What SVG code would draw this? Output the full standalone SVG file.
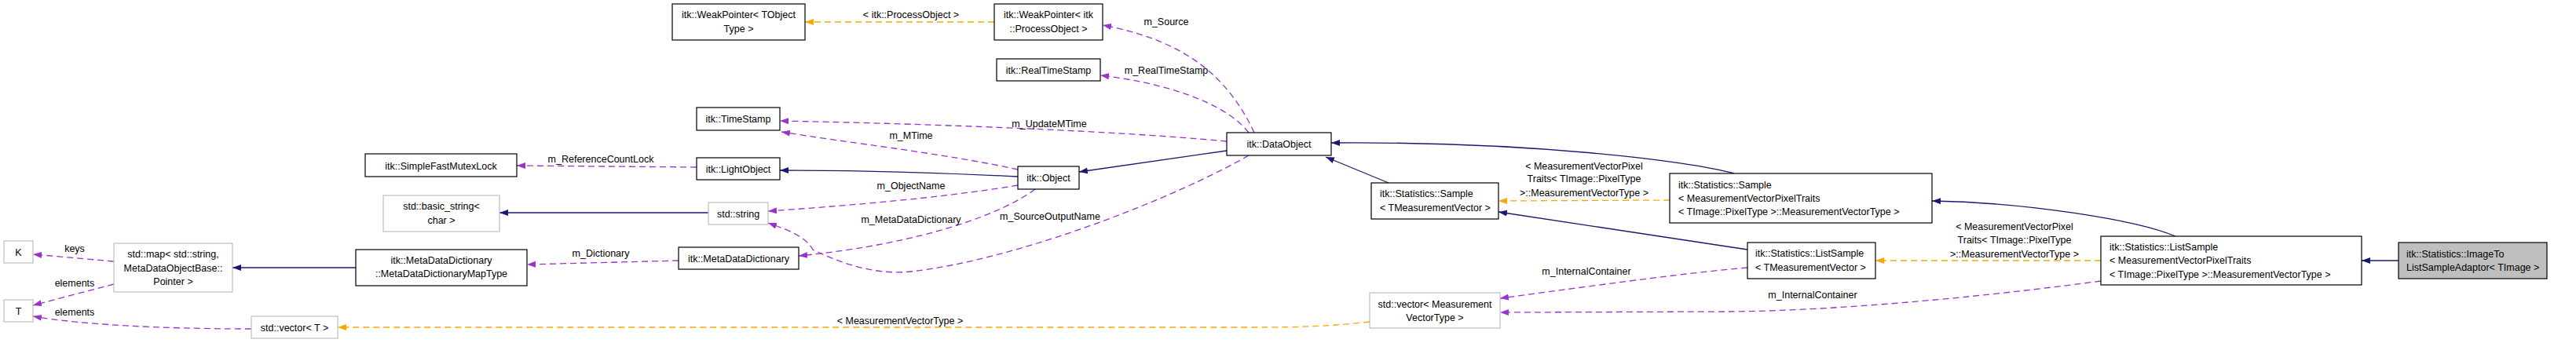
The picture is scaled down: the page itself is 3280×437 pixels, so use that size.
<svg xmlns="http://www.w3.org/2000/svg" width="3280" height="437" viewBox="0 0 3280 437">
<defs>
<style>
text{font-family:"Liberation Sans",Arial,sans-serif;font-size:12.5px;fill:#000}
.c{text-anchor:middle}
.nb{fill:#fff;stroke:#000;stroke-width:1.2}
.ng{fill:#fff;stroke:#bfbfbf;stroke-width:1.2}
.nm{fill:#bfbfbf;stroke:#000;stroke-width:1.2}
.inh{fill:none;stroke:#191970;stroke-width:1.3;marker-end:url(#an)}
.use{fill:none;stroke:#9a32cd;stroke-width:1.3;stroke-dasharray:8,5;marker-end:url(#ap)}
.tpl{fill:none;stroke:#ffa500;stroke-width:1.3;stroke-dasharray:8,5;marker-end:url(#ao)}
</style>
<marker id="an" markerUnits="userSpaceOnUse" markerWidth="12" markerHeight="9" refX="11" refY="4" orient="auto"><path d="M0,0 L11,4 L0,8 z" fill="#191970"/></marker>
<marker id="ap" markerUnits="userSpaceOnUse" markerWidth="12" markerHeight="9" refX="11" refY="4" orient="auto"><path d="M0,0 L11,4 L0,8 z" fill="#9a32cd"/></marker>
<marker id="ao" markerUnits="userSpaceOnUse" markerWidth="12" markerHeight="9" refX="11" refY="4" orient="auto"><path d="M0,0 L11,4 L0,8 z" fill="#ffa500"/></marker>
</defs>
<rect width="3280" height="437" fill="#fff"/>
<g id="edges">
<path class="inh" d="M3054,332 L3007,332"/>
<path class="inh" d="M2770,301 C2720,280 2580,258 2460,256"/>
<path class="inh" d="M2208,221 C2150,205 1950,180 1695,182"/>
<path class="inh" d="M1768,233 L1688,200"/>
<path class="inh" d="M2225,318 L1908,270"/>
<path class="tpl" d="M2675,332 L2388,332"/>
<text class="c" x="2565" y="293">&lt; MeasurementVectorPixel</text>
<text class="c" x="2565" y="310">Traits&lt; TImage::PixelType</text>
<text class="c" x="2565" y="327.5">&gt;::MeasurementVectorType &gt;</text>
<path class="tpl" d="M2126,255 L1908,256"/>
<text class="c" x="2017" y="215.5">&lt; MeasurementVectorPixel</text>
<text class="c" x="2017" y="231.5">Traits&lt; TImage::PixelType</text>
<text class="c" x="2017" y="249.5">&gt;::MeasurementVectorType &gt;</text>
<path class="use" d="M2225,341 C2150,347 2000,368 1910,380"/>
<text class="c" x="2020" y="350">m_InternalContainer</text>
<path class="use" d="M2675,358 C2550,375 2350,396 2200,397 L1910,398"/>
<text class="c" x="2308" y="380">m_InternalContainer</text>
<path class="tpl" d="M1744,410 C1700,415 1660,417 1600,417 L430,417"/>
<text class="c" x="1146" y="413">&lt; MeasurementVectorType &gt;</text>
<path class="use" d="M320,419 C200,419 100,413 42,403"/>
<text class="c" x="95" y="402">elements</text>
<path class="use" d="M145,362 L42,389"/>
<text class="c" x="95" y="365">elements</text>
<path class="use" d="M145,333 L42,324"/>
<text class="c" x="95" y="321">keys</text>
<path class="inh" d="M453,341 L296,341"/>
<path class="use" d="M864,332 L671,337"/>
<text class="c" x="765" y="327">m_Dictionary</text>
<path class="inh" d="M902,271 L636,271"/>
<path class="use" d="M887,213 L658,211"/>
<text class="c" x="765" y="207">m_ReferenceCountLock</text>
<path class="inh" d="M1296,225 C1200,220 1100,217 993,217"/>
<path class="use" d="M1296,216 C1200,195 1080,182 995,168"/>
<text class="c" x="1160" y="177">m_MTime</text>
<path class="use" d="M1562,180 C1400,165 1150,157 993,154"/>
<text class="c" x="1336" y="162">m_UpdateMTime</text>
<path class="use" d="M1590,169 C1560,130 1480,105 1401,96"/>
<text class="c" x="1485" y="94">m_RealTimeStamp</text>
<path class="use" d="M1597,169 C1560,90 1500,50 1404,32"/>
<text class="c" x="1485" y="32">m_Source</text>
<path class="inh" d="M1562,192 L1374,219"/>
<path class="use" d="M1296,236 C1200,252 1080,262 978,269"/>
<text class="c" x="1160" y="241">m_ObjectName</text>
<path class="use" d="M1318,241 C1280,270 1180,310 1017,326"/>
<text class="c" x="1160" y="284">m_MetaDataDictionary</text>
<path class="use" d="M1590,198 C1500,250 1300,330 1160,346 C1120,350 1080,340 1035,318 C1025,300 1000,292 978,284"/>
<text class="c" x="1337" y="280">m_SourceOutputName</text>
<path class="tpl" d="M1266,28 L1025,28"/>
<text class="c" x="1160" y="23">&lt; itk::ProcessObject &gt;</text>
</g>
<g id="n_mutex"><rect class="nb" x="465" y="196" width="193" height="29"/><text class="c" x="561.5" y="215.5">itk::SimpleFastMutexLock</text></g>
<g id="n_wp_tobject"><rect class="nb" x="856" y="5" width="169" height="46"/><text class="c" x="940.5" y="23">itk::WeakPointer&lt; TObject</text><text class="c" x="940.5" y="41">Type &gt;</text></g>
<g id="n_wp_po"><rect class="nb" x="1266" y="5" width="138" height="46"/><text class="c" x="1335" y="23">itk::WeakPointer&lt; itk</text><text class="c" x="1335" y="41">::ProcessObject &gt;</text></g>
<g id="n_rts"><rect class="nb" x="1269" y="75" width="132" height="28"/><text class="c" x="1335" y="93.5">itk::RealTimeStamp</text></g>
<g id="n_ts"><rect class="nb" x="887" y="137" width="106" height="29"/><text class="c" x="940" y="156">itk::TimeStamp</text></g>
<g id="n_light"><rect class="nb" x="887" y="201" width="106" height="28"/><text class="c" x="940" y="219.5">itk::LightObject</text></g>
<g id="n_dataobj"><rect class="nb" x="1562" y="169" width="133" height="29"/><text class="c" x="1628.5" y="188">itk::DataObject</text></g>
<g id="n_object"><rect class="nb" x="1296" y="212" width="78" height="29"/><text class="c" x="1335" y="231">itk::Object</text></g>
<g id="n_basicstr"><rect class="ng" x="488" y="249" width="148" height="46"/><text class="c" x="562" y="266.5">std::basic_string&lt;</text><text class="c" x="562" y="284.5">char &gt;</text></g>
<g id="n_string"><rect class="ng" x="902" y="258" width="76" height="28"/><text class="c" x="940" y="276.5">std::string</text></g>
<g id="n_mdd"><rect class="nb" x="864" y="315" width="153" height="28"/><text class="c" x="940.5" y="333.5">itk::MetaDataDictionary</text></g>
<g id="n_mapt"><rect class="nb" x="453" y="318" width="218" height="46"/><text class="c" x="562" y="336">itk::MetaDataDictionary</text><text class="c" x="562" y="353">::MetaDataDictionaryMapType</text></g>
<g id="n_map"><rect class="ng" x="145" y="310" width="151" height="62"/><text class="c" x="220.5" y="327.5">std::map&lt; std::string,</text><text class="c" x="220.5" y="345.5">MetaDataObjectBase::</text><text class="c" x="220.5" y="362.5">Pointer &gt;</text></g>
<g id="n_K"><rect class="ng" x="5" y="307" width="37" height="28"/><text class="c" x="23.5" y="325.5">K</text></g>
<g id="n_T"><rect class="ng" x="5" y="382" width="37" height="28"/><text class="c" x="23.5" y="400.5">T</text></g>
<g id="n_vecT"><rect class="ng" x="320" y="403" width="110" height="28"/><text class="c" x="375" y="421.5">std::vector&lt; T &gt;</text></g>
<g id="n_sample_tmv"><rect class="nb" x="1746" y="233" width="162" height="46"/><text x="1757" y="250.5">itk::Statistics::Sample</text><text x="1757" y="268.5">&lt; TMeasurementVector &gt;</text></g>
<g id="n_sample_mvpt"><rect class="nb" x="2126" y="221" width="334" height="63"/><text x="2137" y="239.5">itk::Statistics::Sample</text><text x="2137" y="256.5">&lt; MeasurementVectorPixelTraits</text><text x="2137" y="274">&lt; TImage::PixelType &gt;::MeasurementVectorType &gt;</text></g>
<g id="n_list_tmv"><rect class="nb" x="2225" y="309" width="163" height="46"/><text x="2235" y="326.5">itk::Statistics::ListSample</text><text x="2235" y="344.5">&lt; TMeasurementVector &gt;</text></g>
<g id="n_list_mvpt"><rect class="nb" x="2675" y="301" width="332" height="62"/><text x="2686" y="318.5">itk::Statistics::ListSample</text><text x="2686" y="335.5">&lt; MeasurementVectorPixelTraits</text><text x="2686" y="353.5">&lt; TImage::PixelType &gt;::MeasurementVectorType &gt;</text></g>
<g id="n_adaptor"><rect class="nm" x="3054" y="309" width="189" height="46"/><text x="3064" y="327.5">itk::Statistics::ImageTo</text><text x="3064" y="344.5">ListSampleAdaptor&lt; TImage &gt;</text></g>
<g id="n_vec_mvt"><rect class="ng" x="1744" y="373" width="166" height="45"/><text class="c" x="1827" y="391.5">std::vector&lt; Measurement</text><text class="c" x="1827" y="408.5">VectorType &gt;</text></g>
</svg>
